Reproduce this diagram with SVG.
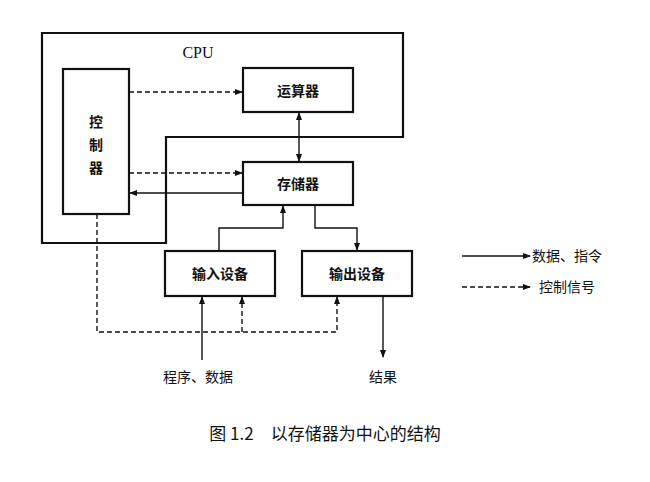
<svg xmlns="http://www.w3.org/2000/svg" width="650" height="482" viewBox="0 0 650 482">
<style>
.b{fill:none;stroke:#111;stroke-width:2.2}
.l{fill:none;stroke:#111;stroke-width:1.4}
.d{fill:none;stroke:#111;stroke-width:1.4;stroke-dasharray:5,3}
text{font-family:"Noto Sans CJK SC","Liberation Sans",sans-serif;font-size:14px;fill:#111;text-anchor:middle;font-weight:bold}
.n{font-weight:normal}
</style>
<defs><marker id="a" markerWidth="8" markerHeight="8" refX="7" refY="4" orient="auto" markerUnits="userSpaceOnUse"><path d="M0,1 L8,4 L0,7 Z" fill="#111"/></marker>
<marker id="s" markerWidth="8" markerHeight="8" refX="1" refY="4" orient="auto" markerUnits="userSpaceOnUse"><path d="M8,1 L0,4 L8,7 Z" fill="#111"/></marker></defs>
<rect width="650" height="482" fill="#fff"/>
<g id="cpu"><path class="b" d="M42,33 H403 V137 H166 V243 H42 Z"/><text x="198" y="58" class="n" style="font-family:'Liberation Serif',serif;font-size:16px">CPU</text></g>
<g id="ctrl"><rect class="b" x="63" y="69" width="66" height="145"/><text x="96" y="127">控</text><text x="96" y="150">制</text><text x="96" y="173">器</text></g>
<g id="alu"><rect class="b" x="243" y="68" width="110" height="44"/><text x="298" y="96">运算器</text></g>
<g id="mem"><rect class="b" x="243" y="162" width="110" height="43"/><text x="298" y="189">存储器</text></g>
<g id="in"><rect class="b" x="165" y="251" width="110" height="45"/><text x="220" y="279">输入设备</text></g>
<g id="out"><rect class="b" x="302" y="251" width="110" height="45"/><text x="357" y="279">输出设备</text></g>
<g id="connectors">
<path class="d" d="M129,92 H242" marker-end="url(#a)"/>
<path class="d" d="M129,173 H242" marker-end="url(#a)"/>
<path class="l" d="M243,193 H130" marker-end="url(#a)"/>
<path class="l" d="M299,113 V161" marker-start="url(#s)" marker-end="url(#a)"/>
<path class="l" d="M219,251 V228 H283 V206" marker-end="url(#a)"/>
<path class="l" d="M315,205 V228 H357 V250" marker-end="url(#a)"/>
<path class="d" d="M97,214 V332 H337 V297" marker-end="url(#a)"/>
<path class="d" d="M242,332 V297" marker-end="url(#a)"/>
<path class="l" d="M202,360 V297" marker-end="url(#a)"/>
<path class="l" d="M383,296 V357" marker-end="url(#a)"/>
<path class="l" d="M462,256 H530" marker-end="url(#a)"/>
<path class="d" d="M462,287 H530" marker-end="url(#a)"/>
</g>
<text x="198" y="382" class="n">程序、数据</text>
<text x="383" y="382" class="n">结果</text>
<text x="567" y="261" class="n" font-size="13">数据、指令</text>
<text x="567" y="292" class="n" font-size="13">控制信号</text>
<text x="325" y="440" class="n" style="font-size:17px">图 1.2　以存储器为中心的结构</text>
</svg>
